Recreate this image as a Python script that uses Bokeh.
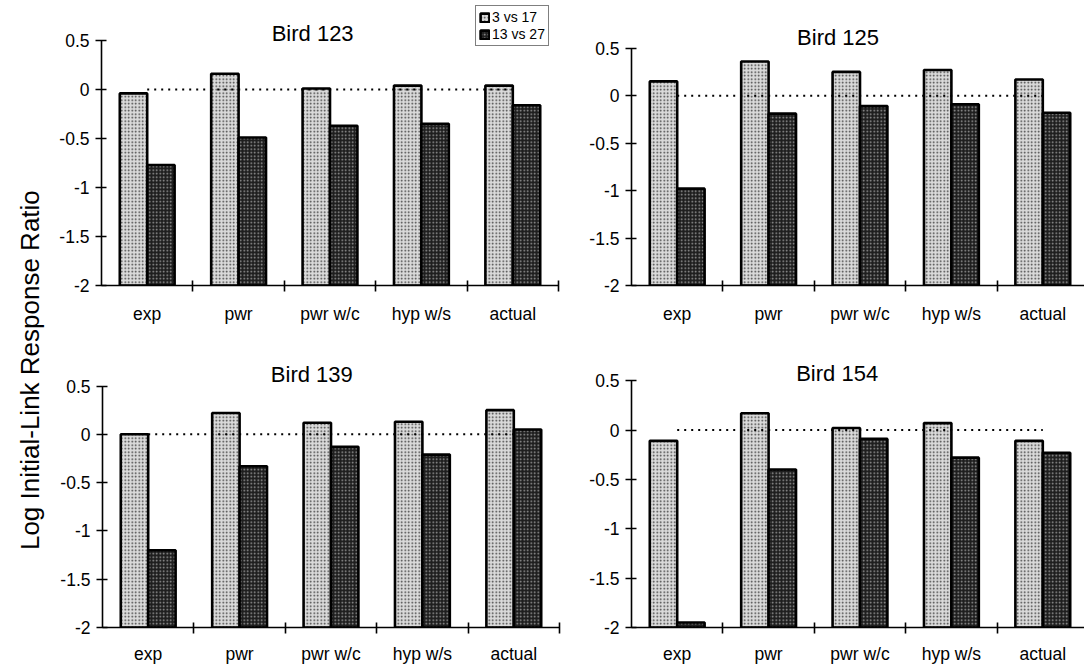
import math
from bokeh.plotting import figure
from bokeh.layouts import row, column
from bokeh.models import (FixedTicker, CustomJSTickFormatter, NumeralTickFormatter,
                          Range1d, Legend, LegendItem)
from bokeh.core.properties import value
from bokeh.embed import file_html
from bokeh.resources import INLINE

# ---------------- data ----------------
categories = ["exp", "pwr", "pwr w/c", "hyp w/s", "actual"]
series_names = ["3 vs 17", "13 vs 27"]
bird_titles = ["Bird 123", "Bird 125", "Bird 139", "Bird 154"]

bird123_3v17 = [-0.04, 0.16, 0.01, 0.04, 0.04]
bird123_13v27 = [-0.77, -0.49, -0.37, -0.35, -0.16]
bird125_3v17 = [0.15, 0.36, 0.25, 0.27, 0.17]
bird125_13v27 = [-0.98, -0.19, -0.11, -0.09, -0.18]
bird139_3v17 = [0.00, 0.22, 0.12, 0.13, 0.25]
bird139_13v27 = [-1.20, -0.33, -0.13, -0.21, 0.05]
bird154_3v17 = [-0.11, 0.17, 0.02, 0.07, -0.11]
bird154_13v27 = [-1.95, -0.40, -0.09, -0.28, -0.23]

y_ticks = [0.5, 0, -0.5, -1, -1.5, -2]
y_label = "Log Initial-Link Response Ratio"

FONT = "Liberation Sans"
BAR_W = 0.3


def make_panel(title, light, dark, width, height, lb, rb, bb, y_end, x_end,
               title_x, title_dy, standoff, legend=False, legend_loc=(0, 0)):
    p = figure(width=width, height=height, output_backend="svg",
               toolbar_location=None, x_range=Range1d(0, x_end),
               y_range=Range1d(-2, y_end), min_border_left=lb,
               min_border_right=rb, min_border_top=0, min_border_bottom=bb)
    p.outline_line_color = None
    p.xgrid.visible = False
    p.ygrid.visible = False
    p.background_fill_color = "white"
    p.border_fill_color = "white"

    n = len(categories)
    centers = [i + 0.5 for i in range(n)]
    xl = [c - BAR_W / 2 for c in centers]
    xd = [c + BAR_W / 2 for c in centers]
    r_light = p.vbar(x=xl, width=BAR_W, bottom=-2, top=light,
                     fill_color="#dadada", line_color="black", line_width=2.6,
                     hatch_pattern="dot", hatch_color="#3a3a3a", hatch_scale=3.5,
                     hatch_weight=1.2)
    r_dark = p.vbar(x=xd, width=BAR_W, bottom=-2, top=dark,
                    fill_color="#1e1e1e", line_color="black", line_width=2.6,
                    hatch_pattern="dot", hatch_color="#a0a0a0", hatch_scale=3.5,
                    hatch_weight=1.2)
    p.line(x=[centers[0], centers[-1]], y=[0, 0], line_color="black",
           line_width=2, line_dash="2 5")

    p.text(x=[title_x], y=[0.5], text=[title], text_font=value(FONT),
           text_font_size="22px", text_align="center",
           text_baseline="middle", y_offset=title_dy, text_color="black")

    # y axis
    p.yaxis.ticker = FixedTicker(ticks=y_ticks)
    p.yaxis.formatter = NumeralTickFormatter(format="0.[0]")
    p.yaxis.bounds = (-2, 0.5)
    p.yaxis.minor_tick_line_color = None
    p.yaxis.major_tick_in = 5
    p.yaxis.major_tick_out = 6
    p.yaxis.major_label_standoff = 6
    # x axis
    p.xaxis.ticker = FixedTicker(ticks=centers, minor_ticks=[1, 2, 3, 4, 5])
    p.xaxis.formatter = CustomJSTickFormatter(
        args=dict(labels=categories),
        code="const i = Math.round(tick - 0.5); return (i >= 0 && i < labels.length) ? labels[i] : '';")
    p.xaxis.major_tick_in = 0
    p.xaxis.major_tick_out = 0
    p.xaxis.minor_tick_in = 5
    p.xaxis.minor_tick_out = 6
    p.xaxis.major_label_standoff = standoff
    for ax in (p.xaxis, p.yaxis):
        ax.axis_line_color = "black"
        ax.axis_line_width = 1.6
        ax.major_tick_line_color = "black"
        ax.major_tick_line_width = 1.6
        ax.major_label_text_font = FONT
        ax.major_label_text_font_size = "17.5px"
        ax.major_label_text_color = "black"
    p.xaxis.minor_tick_line_color = "black"
    p.xaxis.minor_tick_line_width = 1.6

    if legend:
        lg = Legend(items=[LegendItem(label=series_names[0], renderers=[r_light]),
                           LegendItem(label=series_names[1], renderers=[r_dark])],
                    location=legend_loc, orientation="vertical",
                    glyph_width=11, glyph_height=11, label_height=12,
                    label_standoff=2, spacing=1, padding=3, margin=0,
                    label_text_font=FONT, label_text_font_size="14px",
                    label_text_line_height=1.0,
                    label_text_color="black", border_line_color="black",
                    border_line_width=1.2, background_fill_alpha=1.0,
                    background_fill_color="white")
        p.add_layout(lg, "center")
    return p


# label figure
lab = figure(width=53, height=666, output_backend="svg", toolbar_location=None,
             x_range=Range1d(0, 1), y_range=Range1d(0, 1),
             min_border=0)
lab.axis.visible = False
lab.grid.visible = False
lab.outline_line_color = None
lab.text(x=[0.56], y=[0.445], text=[y_label], angle=math.pi / 2,
         text_font=value(FONT), text_font_size="26px", text_align="center",
         text_baseline="middle", text_color="black")

p1 = make_panel(bird_titles[0], bird123_3v17, bird123_13v27, width=525, height=338,
                lb=48, rb=20, bb=53, y_end=0.5 + 40 / 98.0, x_end=5,
                title_x=2.31, title_dy=-7, standoff=12, legend=True,
                legend_loc=(374, 239))
p2 = make_panel(bird_titles[1], bird125_3v17, bird125_13v27, width=506, height=338,
                lb=53, rb=0, bb=51, y_end=0.5 + 48 / 95.6, x_end=453 / 91.4,
                title_x=2.26, title_dy=-11, standoff=12)
p3 = make_panel(bird_titles[2], bird139_3v17, bird139_13v27, width=525, height=328,
                lb=49, rb=19, bb=36, y_end=0.5 + 48 / 97.6, x_end=5,
                title_x=2.29, title_dy=-12, standoff=10)
p4 = make_panel(bird_titles[3], bird154_3v17, bird154_13v27, width=506, height=328,
                lb=53, rb=0, bb=33, y_end=0.5 + 43 / 100.8, x_end=453 / 91.4,
                title_x=2.25, title_dy=-7, standoff=10)

layout = row(lab, column(row(p1, p2), row(p3, p4)))
open("out.html", "w").write(file_html(layout, INLINE))
